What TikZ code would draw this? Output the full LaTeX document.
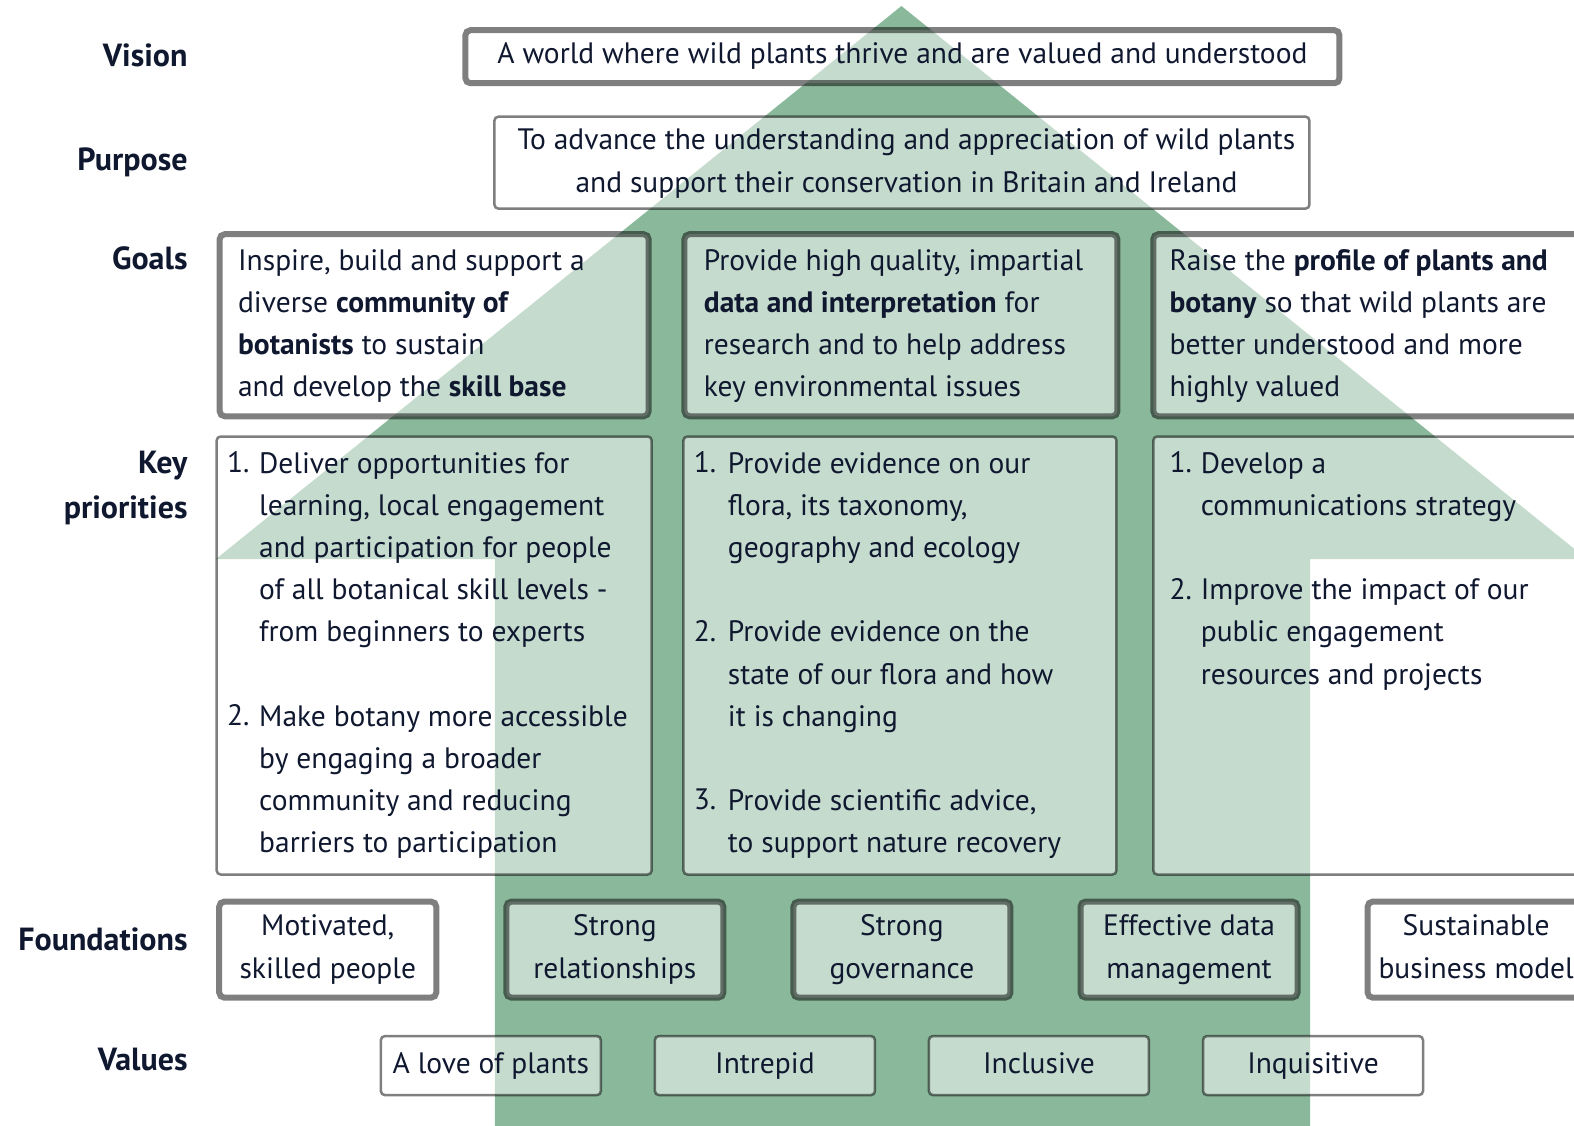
\documentclass[tikz,border=0pt]{standalone}
\usepackage{fontspec}
\setmainfont{PT Sans}
\newcommand\myfs{29.5}
\definecolor{arrowgreen}{RGB}{138,184,155}
\definecolor{txtc}{RGB}{16,24,48}
\tikzset{
  thickbox/.style={draw=black, draw opacity=0.5, fill=white, fill opacity=0.5, line width=6pt, rounded corners=5pt, inner sep=0pt, outer sep=0pt},
  thinbox/.style={draw=black, draw opacity=0.5, fill=white, fill opacity=0.5, line width=2.5pt, rounded corners=4pt, inner sep=0pt, outer sep=0pt},
  body/.style={text=txtc, font=\fontsize{\myfs}{42.2}\selectfont, inner sep=0pt},
  lefttxt/.style={body, align=left, anchor=north west},
  ctrtxt/.style={body, align=center, anchor=north},
  rowlabel/.style={text=txtc, font=\fontsize{32}{45.2}\selectfont\bfseries, inner sep=0pt, anchor=base east, align=right},
}
\begin{document}
\begin{tikzpicture}[x=1.0038pt,y=-1.0038pt]
\useasboundingbox (0,0) rectangle (1568,1120.75);
\clip (0,0) rectangle (1568,1120.75);
% arrow
\fill[arrowgreen] (898,6) -- (1581,557) -- (1305,557) -- (1305,1140) -- (493,1140) -- (493,557) -- (215,557) -- cycle;

% row labels
\node[rowlabel] (lvis) at (187,66) {Vision};
\node[rowlabel] (lpur) at (187,170) {Purpose};
\node[rowlabel] (lgoa) at (187,268) {Goals};
\node[rowlabel, anchor=north east] (lkey) at (187,439.6) {\strut Key\\priorities};
\node[rowlabel] (lfou) at (187,947) {Foundations};
\node[rowlabel] (lval) at (187,1066) {Values};

% vision & purpose
\node[thickbox, minimum width=874, minimum height=53] (vis) at (899,56.5) {};
\node[thinbox, minimum width=815, minimum height=92] (pur) at (898.5,162) {};
\node[body, anchor=base] (vist) at (899,63) {A world where wild plants thrive and are valued and understood};
\node[ctrtxt] (purt) at (903,119.6) {\strut To advance the understanding and appreciation of wild plants\\and support their conservation in Britain and Ireland};

% goals
\node[thickbox, minimum width=429, minimum height=182] (g1) at (432.5,324) {};
\node[thickbox, minimum width=433, minimum height=182] (g2) at (897.5,324) {};
\node[thickbox, minimum width=472, minimum height=182] (g3) at (1384,324) {};
\node[lefttxt] (g1t) at (237,239.6) {\strut Inspire, build and support a\\diverse \textbf{community of}\\\textbf{botanists} to sustain\\and develop the \textbf{skill base}};
\node[lefttxt] (g2t) at (701,239.6) {\strut Provide high quality, impartial\\\textbf{data and interpretation} for\\research and to help address\\key environmental issues};
\node[lefttxt] (g3t) at (1165,239.6) {\strut Raise the \textbf{profile of plants and}\\\textbf{botany} so that wild plants are\\better understood and more\\highly valued};

% key priorities
\node[thinbox, minimum width=435, minimum height=438] (k1) at (432.5,653) {};
\node[thinbox, minimum width=433, minimum height=438] (k2) at (896.5,653) {};
\node[thinbox, minimum width=472, minimum height=438] (k3) at (1384,653) {};
\node[body, anchor=base west] (k1n1) at (226,471) {1.};
\node[body, anchor=base west] (k1n2) at (226,723) {2.};
\node[body, anchor=base west] (k2n1) at (691,471) {1.};
\node[body, anchor=base west] (k2n2) at (691,639) {2.};
\node[body, anchor=base west] (k2n3) at (691,806) {3.};
\node[body, anchor=base west] (k3n1) at (1165,471) {1.};
\node[body, anchor=base west] (k3n2) at (1165,597) {2.};
\node[lefttxt] (k1t) at (258,441.6) {\strut Deliver opportunities for\\learning, local engagement\\and participation for people\\of all botanical skill levels -\\from beginners to experts\\[42.2pt]Make botany more accessible\\by engaging a broader\\community and reducing\\barriers to participation};
\node[lefttxt] (k2t) at (725,441.6) {\strut Provide evidence on our\\flora, its taxonomy,\\geography and ecology\\[42.2pt]Provide evidence on the\\state of our flora and how\\it is changing\\[42.2pt]Provide scientific advice,\\to support nature recovery};
\node[lefttxt] (k3t) at (1196,441.6) {\strut Develop a\\communications strategy\\[42.2pt]Improve the impact of our\\public engagement\\resources and projects};

% foundations
\node[thickbox, minimum width=217, minimum height=96] (f1) at (326.5,946) {};
\node[thickbox, minimum width=217, minimum height=96] (f2) at (612.5,946) {};
\node[thickbox, minimum width=217, minimum height=96] (f3) at (898.5,946) {};
\node[thickbox, minimum width=217, minimum height=96] (f4) at (1184.5,946) {};
\node[thickbox, minimum width=217, minimum height=96] (f5) at (1470.5,946) {};
\node[ctrtxt] (f1t) at (326.5,902.6) {\strut Motivated,\\skilled people};
\node[ctrtxt] (f2t) at (612.5,902.6) {\strut Strong\\relationships};
\node[ctrtxt] (f3t) at (898.5,902.6) {\strut Strong\\governance};
\node[ctrtxt] (f4t) at (1184.5,902.6) {\strut Effective data\\management};
\node[ctrtxt] (f5t) at (1470.5,902.6) {\strut Sustainable\\business model};

% values
\node[thinbox, minimum width=220, minimum height=59] (v1) at (489,1061.5) {};
\node[thinbox, minimum width=220, minimum height=59] (v2) at (762,1061.5) {};
\node[thinbox, minimum width=220, minimum height=59] (v3) at (1035,1061.5) {};
\node[thinbox, minimum width=220, minimum height=59] (v4) at (1308,1061.5) {};
\node[body, anchor=base] (v1t) at (489,1069) {A love of plants};
\node[body, anchor=base] (v2t) at (762,1069) {Intrepid};
\node[body, anchor=base] (v3t) at (1035,1069) {Inclusive};
\node[body, anchor=base] (v4t) at (1308,1069) {Inquisitive};
\end{tikzpicture}
\end{document}
